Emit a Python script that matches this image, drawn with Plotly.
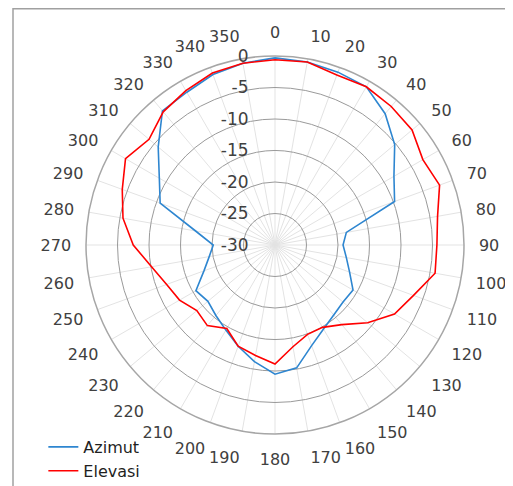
import plotly.graph_objects as go

angles = list(range(0, 360, 10))
angle_labels = [str(a) for a in angles]

azimut = [-0.3, -0.5, -0.8, -1.0, -2.8, -5.2, -8.2, -9.8, -18.5, -19.2,
          -18.5, -17.4, -15.7, -15.9, -15.5, -14.6, -13.0, -10.2, -9.5, -11.2,
          -12.9, -14.4, -15.4, -16.1, -15.5, -18.0, -19.4, -20.2, -17.2, -10.6,
          -8.8, -5.8, -2.2, -2.0, -1.2, -0.7]

elevasi = [-0.6, -0.5, -1.3, -1.0, -1.3, -1.6, -2.9, -2.2, -3.8, -4.3,
           -4.2, -6.6, -8.1, -10.8, -13.5, -14.9, -14.9, -13.6, -11.1, -12.2,
           -12.9, -14.7, -13.3, -13.8, -12.5, -11.7, -10.1, -7.5, -5.5, -4.2,
           -2.6, -3.9, -2.4, -1.7, -0.95, -0.7]

radial_ticks = [-30, -25, -20, -15, -10, -5, 0]

series = [("Azimut", azimut, "#2E86D0"), ("Elevasi", elevasi, "#FF0000")]

fig = go.Figure()
for name, vals, color in series:
    fig.add_trace(go.Scatterpolar(
        r=vals + vals[:1],
        theta=angles + angles[:1],
        mode="lines",
        name=name,
        line=dict(color=color, width=1.6),
    ))

# page body has an 8px margin, so the figure is sized and placed to compensate
OFF = 8
W, H = 513 - OFF, 486 - OFF
cx, cy, R = 275 - OFF, 245 - OFF, 189
fig.update_layout(
    width=W, height=H,
    margin=dict(l=0, r=0, t=0, b=0, autoexpand=False),
    paper_bgcolor="white",
    font=dict(family="DejaVu Sans", size=16, color="#404040"),
    polar=dict(
        domain=dict(x=[(cx - R) / W, (cx + R) / W],
                    y=[(H - cy - R) / H, (H - cy + R) / H]),
        bgcolor="white",
        angularaxis=dict(
            rotation=90, direction="clockwise",
            tickmode="array", tickvals=angles, ticktext=angle_labels,
            ticks="outside", ticklen=11, tickcolor="rgba(0,0,0,0)",
            showline=True, linecolor="#a6a6a6", linewidth=1.5,
            gridcolor="#e3e3e3", gridwidth=1,
            tickfont=dict(size=16, color="#404040"),
        ),
        radialaxis=dict(
            angle=90, side="counterclockwise",
            range=[-30, 0], tickmode="array", tickvals=radial_ticks,
            ticktext=[str(v) for v in radial_ticks],
            showline=False, ticks="outside", ticklen=20, tickcolor="rgba(0,0,0,0)",
            gridcolor="#9a9a9a", gridwidth=1.2,
            tickfont=dict(size=17, color="#404040"), tickangle=90,
        ),
    ),
    legend=dict(x=0.07, y=(H - (430 - OFF)) / H, xanchor="left", yanchor="top",
                font=dict(size=16, color="#1f1f1f"), bgcolor="rgba(0,0,0,0)",
                tracegroupgap=0),
    shapes=[
        dict(type="line", xref="paper", yref="paper", x0=(13 - OFF) / W, x1=1.05,
             y0=1 - 0.75 / H, y1=1 - 0.75 / H,
             line=dict(color="#a0a0a0", width=1.5)),
        dict(type="line", xref="paper", yref="paper", x0=(13 - OFF) / W, x1=(13 - OFF) / W,
             y0=-0.05, y1=1.0, line=dict(color="#a0a0a0", width=1.5)),
    ],
)

fig.write_html("out.html")
